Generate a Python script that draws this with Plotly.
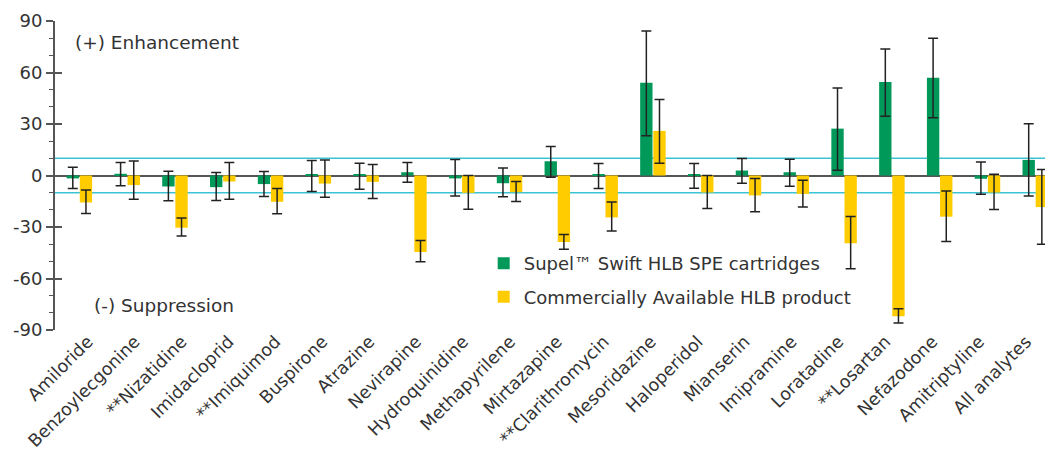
import plotly.graph_objects as go

categories = ["Amiloride", "Benzoylecgonine", "**Nizatidine", "Imidacloprid", "**Imiquimod",
              "Buspirone", "Atrazine", "Nevirapine", "Hydroquinidine", "Methapyrilene",
              "Mirtazapine", "**Clarithromycin", "Mesoridazine", "Haloperidol", "Mianserin",
              "Imipramine", "Loratadine", "**Losartan", "Nefazodone", "Amitriptyline", "All analytes"]

supel_values = [-1.7, 1.0, -6.4, -6.8, -5.0, 0.3, 0.3, 1.9, -1.7, -4.5, 8.3, 0.3, 54.1, 0.3, 2.9,
                1.9, 27.3, 54.5, 57.0, -1.9, 9.1]
supel_err_plus = [6.5, 6.6, 8.9, 8.5, 7.3, 8.4, 6.9, 5.7, 11.0, 8.8, 8.6, 6.7, 30.1, 6.7, 7.0,
                  7.6, 23.7, 19.2, 22.9, 9.7, 21.0]
supel_err_minus = [5.9, 7.0, 8.3, 7.7, 7.2, 9.6, 8.3, 5.8, 10.3, 7.9, 9.3, 7.9, 31.0, 7.7, 7.4,
                   8.1, 24.2, 20.0, 23.3, 9.0, 21.1]

comm_values = [-15.7, -5.6, -30.4, -3.5, -15.3, -4.7, -3.7, -44.6, -10.1, -9.7, -38.8, -24.4, 26.0,
               -9.9, -11.6, -10.7, -39.4, -82.0, -24.0, -9.9, -18.4]
comm_err_plus = [7.2, 14.1, 5.6, 11.1, 7.7, 13.8, 10.1, 6.8, 10.1, 6.2, 4.5, 8.9, 18.2, 9.9, 9.9,
                 8.0, 15.5, 4.4, 14.9, 10.7, 21.9]
comm_err_minus = [6.4, 8.2, 4.9, 10.3, 7.0, 7.9, 9.7, 5.6, 9.5, 5.4, 4.1, 8.0, 18.8, 9.3, 9.5,
                  7.7, 14.9, 3.9, 14.4, 9.9, 21.6]

y_ticks = [-90, -60, -30, 0, 30, 60, 90]
y_tick_labels = ["-90", "-60", "-30", "0", "30", "60", "90"]
threshold = 10

FONT = "DejaVu Sans, Verdana, sans-serif"
GREEN = "#00995A"
YELLOW = "#FFCC00"
AXIS = "#555555"
TEXT = "#333333"

fig = go.Figure()
fig.add_trace(go.Bar(
    x=categories, y=supel_values, name="Supel™ Swift HLB SPE cartridges",
    marker=dict(color=GREEN, line=dict(width=0)), legendgroup="a",
    error_y=dict(type="data", symmetric=False, array=supel_err_plus, arrayminus=supel_err_minus,
                 color="#222222", thickness=1.5, width=5),
))
fig.add_trace(go.Bar(
    x=categories, y=comm_values, name="Commercially Available HLB product",
    marker=dict(color=YELLOW, line=dict(width=0)), legendgroup="b",
    error_y=dict(type="data", symmetric=False, array=comm_err_plus, arrayminus=comm_err_minus,
                 color="#222222", thickness=1.5, width=5),
))
# invisible helper trace so the overlaying label / tick axes are rendered
fig.add_trace(go.Scatter(
    x=list(range(len(categories))), y=[0] * len(categories), xaxis="x2", yaxis="y2",
    mode="markers", marker=dict(opacity=0, size=1), showlegend=False, hoverinfo="skip",
))

for yv in (threshold, -threshold):
    fig.add_shape(type="line", xref="paper", yref="y", x0=0, x1=1, y0=yv, y1=yv,
                  line=dict(color="#3CC3D3", width=1.5), layer="below")

fig.add_annotation(text="(+) Enhancement", xref="paper", yref="y", x=0.018, y=77.5,
                   xanchor="left", yanchor="middle", showarrow=False,
                   font=dict(family=FONT, size=18.5, color=TEXT))
fig.add_annotation(text="(-) Suppression", xref="paper", yref="y", x=0.037, y=-76,
                   xanchor="left", yanchor="middle", showarrow=False,
                   font=dict(family=FONT, size=18.5, color=TEXT))

fig.update_layout(
    width=1045, height=445,
    margin=dict(l=47, r=1, t=13, b=123),
    paper_bgcolor="white", plot_bgcolor="white",
    barmode="group", bargap=0.45, bargroupgap=0.06,
    font=dict(family=FONT, size=18, color=TEXT),
    showlegend=True,
    legend=dict(x=0.43, y=0.275, xanchor="left", yanchor="top",
                bgcolor="rgba(0,0,0,0)", font=dict(family=FONT, size=18, color=TEXT),
                traceorder="grouped", tracegroupgap=7, itemwidth=30),
    xaxis=dict(range=[-0.51, 20.35], showline=False, ticks="", showticklabels=False,
               showgrid=False),
    # label axis: same category order, slightly tighter spacing as in the reference
    xaxis2=dict(overlaying="x", anchor="y", side="bottom", range=[-0.70, 20.55],
                tickmode="array", tickvals=list(range(len(categories))), ticktext=categories,
                tickangle=-45, ticks="", showline=False, showgrid=False, zeroline=False,
                ticklabelstandoff=-3,
                tickfont=dict(family=FONT, size=17.5, color=TEXT)),
    yaxis=dict(range=[-90, 90], tickvals=y_ticks, ticktext=y_tick_labels, showgrid=False,
               showline=True, linecolor=AXIS, linewidth=2,
               ticks="outside", ticklen=7, tickwidth=1.5, tickcolor=AXIS,
               minor=dict(dtick=10, ticks="outside", ticklen=4, tickwidth=1, tickcolor=AXIS),
               zeroline=True, zerolinecolor=AXIS, zerolinewidth=1.5,
               tickfont=dict(family=FONT, size=18, color=TEXT)),
    yaxis2=dict(range=[-90, 90], overlaying="y", side="left", anchor="x",
                tickvals=y_ticks, showticklabels=False, showgrid=False, zeroline=False,
                ticks="inside", ticklen=7, tickwidth=1.5, tickcolor=AXIS, showline=False),
)

fig.write_html("out.html")
